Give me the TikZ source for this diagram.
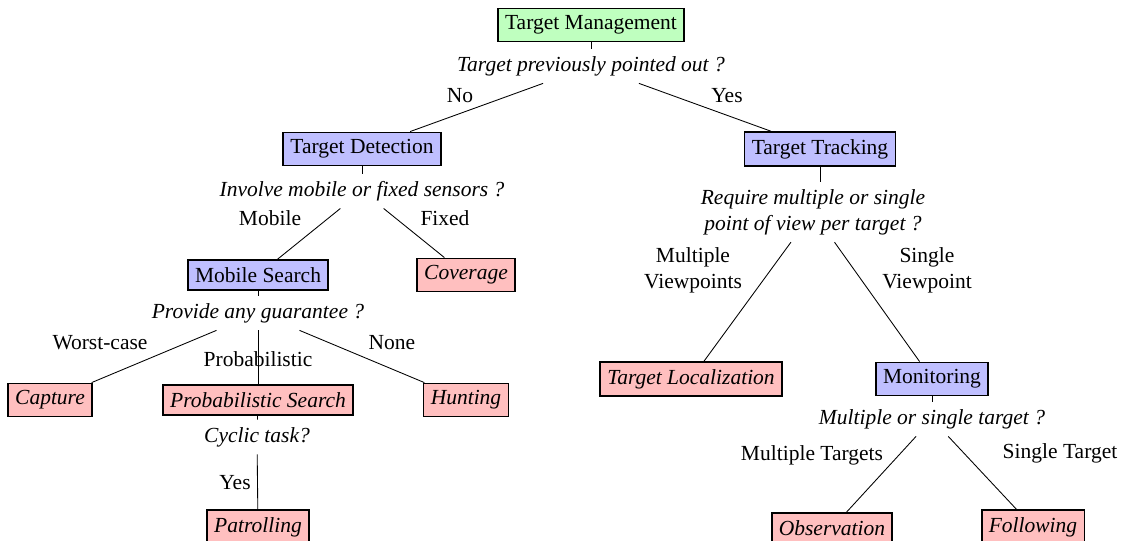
\documentclass[tikz,border=0pt]{standalone}
\usepackage{fontspec}
\setmainfont{Liberation Serif}
\definecolor{gfill}{RGB}{191,255,191}
\definecolor{bfill}{RGB}{191,191,255}
\definecolor{rfill}{RGB}{255,191,191}
\tikzset{
  box/.style={draw=black, thick, rectangle, inner sep=3.33pt, font=\fontsize{10}{12}\selectfont},
  rootbox/.style={box, fill=gfill},
  midbox/.style={box, fill=bfill},
  leafbox/.style={box, fill=rfill, font=\fontsize{10}{12}\selectfont\itshape},
  question/.style={inner sep=3.33pt, align=center, font=\fontsize{10}{12}\selectfont\itshape},
  lab/.style={inner sep=1pt, align=center, font=\fontsize{10}{12}\selectfont},
  conn/.style={draw=black, line width=0.4pt}
}
\begin{document}
\begin{tikzpicture}[x=0.4651pt, y=-0.4651pt]
\useasboundingbox (0,0) rectangle (1122,540);
% nodes
\node[rootbox] (tm) at (591,25) {Target Management};
\node[question] (q1) at (591,66) {Target previously pointed out ?};
\node[midbox] (td) at (362,149) {Target Detection};
\node[midbox] (tt) at (820,149) {Target Tracking};
\node[question] (q2) at (362,191) {Involve mobile or fixed sensors ?};
\node[midbox] (ms) at (258,275) {Mobile Search};
\node[leafbox] (cov) at (466,275) {Coverage};
\node[question] (q3) at (258,313) {Provide any guarantee ?};
\node[leafbox] (cap) at (50,400) {Capture};
\node[leafbox] (ps) at (258,400) {Probabilistic Search};
\node[leafbox] (hun) at (466,400) {Hunting};
\node[question] (q4) at (257,437) {Cyclic task?};
\node[leafbox] (pat) at (258,527) {Patrolling};
\node[question] (q5) at (813,212) {Require multiple or single\\point of view per target ?};
\node[leafbox] (tl) at (691,379) {Target Localization};
\node[midbox] (mon) at (932,379) {Monitoring};
\node[question] (q6) at (932,419) {Multiple or single target ?};
\node[leafbox] (obs) at (832,528) {Observation};
\node[leafbox] (fol) at (1033,527) {Following};
% connectors
\draw[conn] (tm) -- (q1);
\draw[conn] (q1) -- (td);
\draw[conn] (q1) -- (tt);
\draw[conn] (td) -- (q2);
\draw[conn] (q2) -- (ms);
\draw[conn] (q2) -- (cov);
\draw[conn] (ms) -- (q3);
\draw[conn] (q3) -- (cap);
\draw[conn] (q3) -- (ps);
\draw[conn] (q3) -- (hun);
\draw[conn] (ps) -- (q4);
\draw[conn] (q4) -- (pat);
\draw[conn] (tt.south) -- (tt.south |- q5.north);
\draw[conn] (q5) -- (tl);
\draw[conn] (q5) -- (mon);
\draw[conn] (mon) -- (q6);
\draw[conn] (q6) -- (obs);
\draw[conn] (q6) -- (fol);
% edge labels
\node[lab] (lno) at (460,96) {No};
\node[lab] (lyes) at (727,96) {Yes};
\node[lab] (lmob) at (270,218) {Mobile};
\node[lab] (lfix) at (445,218) {Fixed};
\node[lab] (lworst) at (100,343) {Worst-case};
\node[lab] (lprob) at (258,359) {Probabilistic};
\node[lab] (lnone) at (392,343) {None};
\node[lab] (lyes2) at (235,483) {Yes};
\node[lab] (lmv) at (693,270) {Multiple\\Viewpoints};
\node[lab] (lsv) at (927,270) {Single\\Viewpoint};
\node[lab] (lmt) at (812,455) {Multiple Targets};
\node[lab] (lst) at (1060,453) {Single Target};
\end{tikzpicture}
\end{document}
